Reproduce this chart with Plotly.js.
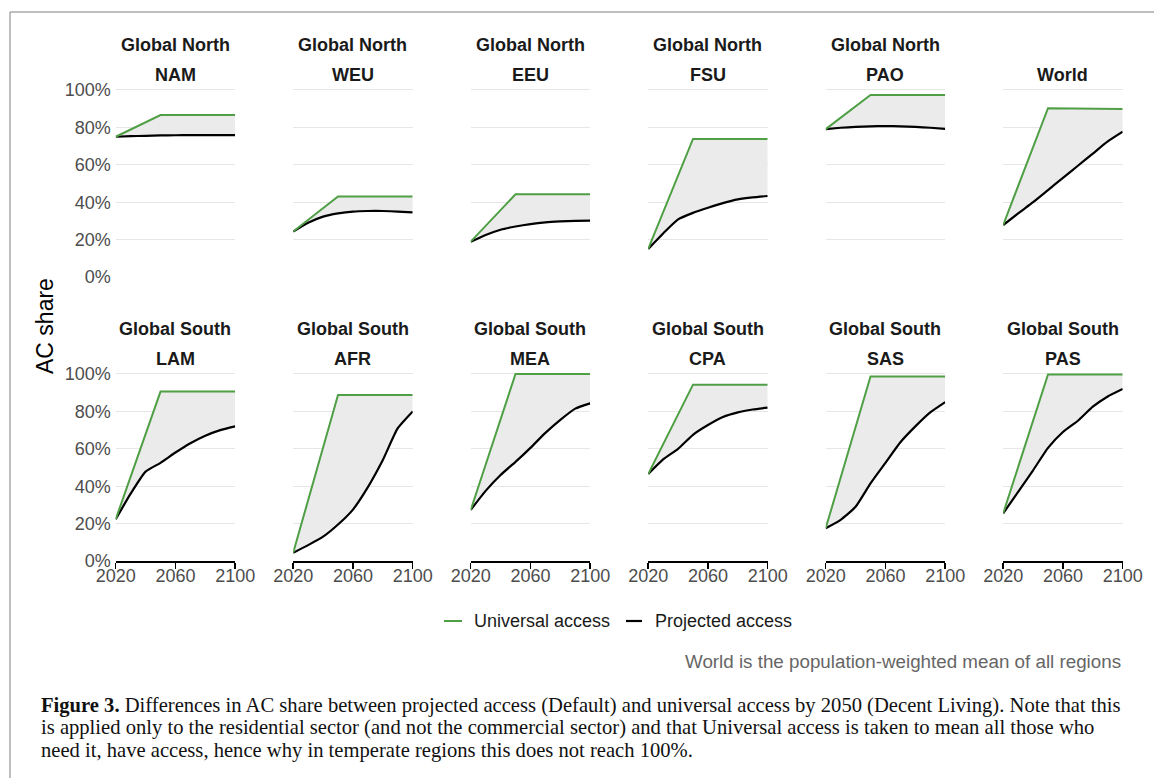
<!DOCTYPE html>
<html>
<head>
<meta charset="utf-8">
<script src="https://cdn.plot.ly/plotly-3.0.1.min.js"></script>
<style>
  html, body { margin: 0; padding: 0; background: #ffffff; }
  #chart { width: 1154px; height: 778px; }
</style>
</head>
<body>
<div id="chart"></div>
<script>
// ---------------- DATA ----------------
const years = [2020, 2030, 2040, 2050, 2060, 2070, 2080, 2090, 2100];
const uniYears = [2020, 2050, 2100];

const regions = ['NAM', 'WEU', 'EEU', 'FSU', 'PAO', 'World', 'LAM', 'AFR', 'MEA', 'CPA', 'SAS', 'PAS'];
const groups  = ['Global North', 'Global North', 'Global North', 'Global North', 'Global North', '',
                 'Global South', 'Global South', 'Global South', 'Global South', 'Global South', 'Global South'];

// Universal access (%), at 2020, 2050, 2100
const uniNAM   = [75.0, 86.6, 86.6];
const uniWEU   = [24.3, 43.0, 43.0];
const uniEEU   = [18.9, 44.2, 44.2];
const uniFSU   = [15.0, 73.8, 73.8];
const uniPAO   = [79.1, 97.3, 97.3];
const uniWorld = [27.8, 90.3, 89.9];
const uniLAM   = [22.3, 90.6, 90.6];
const uniAFR   = [4.4, 88.8, 88.8];
const uniMEA   = [27.3, 100.0, 100.0];
const uniCPA   = [46.5, 94.3, 94.3];
const uniSAS   = [17.5, 98.7, 98.7];
const uniPAS   = [25.5, 99.8, 99.8];

// Projected access (%), per decade 2020..2100
const projNAM   = [75.0, 75.3, 75.5, 75.7, 75.8, 75.9, 75.9, 75.9, 75.9];
const projWEU   = [24.3, 29.0, 32.3, 34.0, 35.0, 35.3, 35.3, 35.0, 34.6];
const projEEU   = [18.9, 22.5, 25.3, 27.0, 28.3, 29.2, 29.7, 30.0, 30.1];
const projFSU   = [15.0, 23.3, 30.8, 34.3, 37.0, 39.5, 41.5, 42.6, 43.3];
const projPAO   = [79.1, 79.8, 80.3, 80.6, 80.7, 80.6, 80.3, 79.8, 79.2];
const projWorld = [27.8, 34.0, 40.0, 46.5, 53.0, 59.5, 66.0, 72.5, 77.7];
const projLAM   = [22.3, 36.0, 47.8, 52.5, 58.0, 63.0, 67.0, 70.0, 72.0];
const projAFR   = [4.4, 8.5, 13.0, 19.5, 27.5, 39.5, 54.0, 71.0, 80.0];
const projMEA   = [27.3, 37.5, 46.0, 53.0, 60.5, 68.5, 75.5, 81.5, 84.3];
const projCPA   = [46.5, 54.3, 60.0, 67.5, 72.7, 77.0, 79.5, 81.0, 82.0];
const projSAS   = [17.5, 22.0, 29.0, 41.5, 52.5, 63.5, 72.0, 79.5, 85.0];
const projPAS   = [25.5, 37.0, 48.5, 60.5, 69.0, 75.0, 82.5, 88.0, 92.0];

const yTicks = [0, 20, 40, 60, 80, 100];
const yTickLabels = ['0%', '20%', '40%', '60%', '80%', '100%'];
const xTicks = [2020, 2060, 2100];

const uniAll  = [uniNAM, uniWEU, uniEEU, uniFSU, uniPAO, uniWorld, uniLAM, uniAFR, uniMEA, uniCPA, uniSAS, uniPAS];
const projAll = [projNAM, projWEU, projEEU, projFSU, projPAO, projWorld, projLAM, projAFR, projMEA, projCPA, projSAS, projPAS];

// ---------------- LAYOUT GEOMETRY ----------------
const W = 1154, H = 778;
const GREEN = '#4f9f45';
const FONT = 'Liberation Sans, Arial, sans-serif';
const panelLeft0 = 115.7, colStep = 177.5, panelW = 119.5;
const rowTop = [90, 374], panelH = 187;
const yMax = 101.2;

const px = v => v / W;
const py = v => 1 - v / H;

const traces = [];
const layout = {
  width: W, height: H,
  margin: {l: 0, r: 0, t: 0, b: 0},
  paper_bgcolor: '#ffffff', plot_bgcolor: '#ffffff',
  showlegend: false,
  font: {family: FONT, color: '#4d4d4d', size: 18},
  annotations: [], shapes: []
};

regions.forEach((reg, i) => {
  const row = Math.floor(i / 6), col = i % 6;
  const n = i + 1;
  const xa = 'x' + (n === 1 ? '' : n), ya = 'y' + (n === 1 ? '' : n);
  const left = panelLeft0 + colStep * col, right = left + panelW;
  const bottom = rowTop[row] + panelH;
  const top = rowTop[row] - panelH * (yMax - 100) / 100;

  traces.push({
    x: years, y: projAll[i], xaxis: xa, yaxis: ya, type: 'scatter', mode: 'lines',
    line: {color: '#000000', width: 2.2, shape: 'spline', smoothing: 0.5},
    hoverinfo: 'skip', name: 'Projected access'
  });
  traces.push({
    x: uniYears, y: uniAll[i], xaxis: xa, yaxis: ya, type: 'scatter', mode: 'lines',
    line: {color: GREEN, width: 2}, fill: 'tonexty', fillcolor: '#ebebeb',
    hoverinfo: 'skip', name: 'Universal access'
  });

  const isBottom = row === 1;
  layout['xaxis' + (n === 1 ? '' : n)] = {
    domain: [px(left), px(right)], range: [2020, 2100], anchor: ya,
    showgrid: false, zeroline: false,
    showline: isBottom, linecolor: '#000000', linewidth: 1.5,
    ticks: isBottom ? 'outside' : '', ticklen: 6, tickwidth: 1.5, tickcolor: '#000000',
    tickvals: xTicks, showticklabels: isBottom, ticklabelstandoff: -8,
    tickfont: {family: FONT, size: 18, color: '#4d4d4d'}, fixedrange: true
  };
  layout['yaxis' + (n === 1 ? '' : n)] = {
    domain: [py(bottom), py(top)], range: [0, yMax], anchor: xa,
    showgrid: true, gridcolor: '#e6e6e6', gridwidth: 1,
    zeroline: false, showline: false, ticks: '',
    tickmode: 'array', tickvals: yTicks, ticktext: yTickLabels, showticklabels: col === 0,
    ticklabelstandoff: 4,
    tickfont: {family: FONT, size: 18, color: '#4d4d4d'}, fixedrange: true
  };

  const cx = px(left + panelW / 2);
  if (groups[i]) {
    layout.annotations.push({
      xref: 'paper', yref: 'paper', x: cx, y: py(rowTop[row] - 45), xanchor: 'center', yanchor: 'middle',
      text: '<b>' + groups[i] + '</b>', showarrow: false, font: {family: FONT, size: 18, color: '#1a1a1a'}
    });
  }
  layout.annotations.push({
    xref: 'paper', yref: 'paper', x: cx, y: py(rowTop[row] - 15), xanchor: 'center', yanchor: 'middle',
    text: '<b>' + reg + '</b>', showarrow: false, font: {family: FONT, size: 18, color: '#1a1a1a'}
  });
});

// y axis title
layout.annotations.push({
  xref: 'paper', yref: 'paper', x: px(45), y: py(326), xanchor: 'center', yanchor: 'middle',
  text: 'AC share', textangle: -90, showarrow: false, font: {family: FONT, size: 23, color: '#000000'}
});

// custom legend
const legY = 621;
layout.shapes.push({type: 'line', xref: 'paper', yref: 'paper', x0: px(444), x1: px(462), y0: py(legY), y1: py(legY), line: {color: GREEN, width: 2}});
layout.shapes.push({type: 'line', xref: 'paper', yref: 'paper', x0: px(626), x1: px(642), y0: py(legY), y1: py(legY), line: {color: '#000000', width: 2.2}});
layout.annotations.push({xref: 'paper', yref: 'paper', x: px(472), y: py(legY), xanchor: 'left', yanchor: 'middle',
  text: 'Universal access', showarrow: false, font: {family: FONT, size: 18, color: '#1a1a1a'}});
layout.annotations.push({xref: 'paper', yref: 'paper', x: px(653), y: py(legY), xanchor: 'left', yanchor: 'middle',
  text: 'Projected access', showarrow: false, font: {family: FONT, size: 18, color: '#1a1a1a'}});

// note
layout.annotations.push({xref: 'paper', yref: 'paper', x: px(1123), y: py(661), xanchor: 'right', yanchor: 'middle',
  text: 'World is the population-weighted mean of all regions', showarrow: false,
  font: {family: FONT, size: 18.8, color: '#666666'}});

// figure caption
const SERIF = 'Liberation Serif, Times New Roman, serif';
const capLines = [
  '<b>Figure 3.</b> Differences in AC share between projected access (Default) and universal access by 2050 (Decent Living). Note that this',
  'is applied only to the residential sector (and not the commercial sector) and that Universal access is taken to mean all those who',
  'need it, have access, hence why in temperate regions this does not reach 100%.'
];
const capY = [705, 727.5, 750];
capLines.forEach((t, k) => {
  layout.annotations.push({xref: 'paper', yref: 'paper', x: px(39), y: py(capY[k]), xanchor: 'left', yanchor: 'middle',
    text: t, showarrow: false, font: {family: SERIF, size: 20.6, color: '#111111'}});
});

// frame border
layout.shapes.push({type: 'line', xref: 'paper', yref: 'paper', x0: px(10), x1: 1, y0: py(12), y1: py(12), line: {color: '#a8a8a8', width: 1.5}});
layout.shapes.push({type: 'line', xref: 'paper', yref: 'paper', x0: px(10), x1: px(10), y0: py(12), y1: 0, line: {color: '#a8a8a8', width: 1.5}});

Plotly.newPlot('chart', traces, layout, {displayModeBar: false, staticPlot: true});
</script>
</body>
</html>
